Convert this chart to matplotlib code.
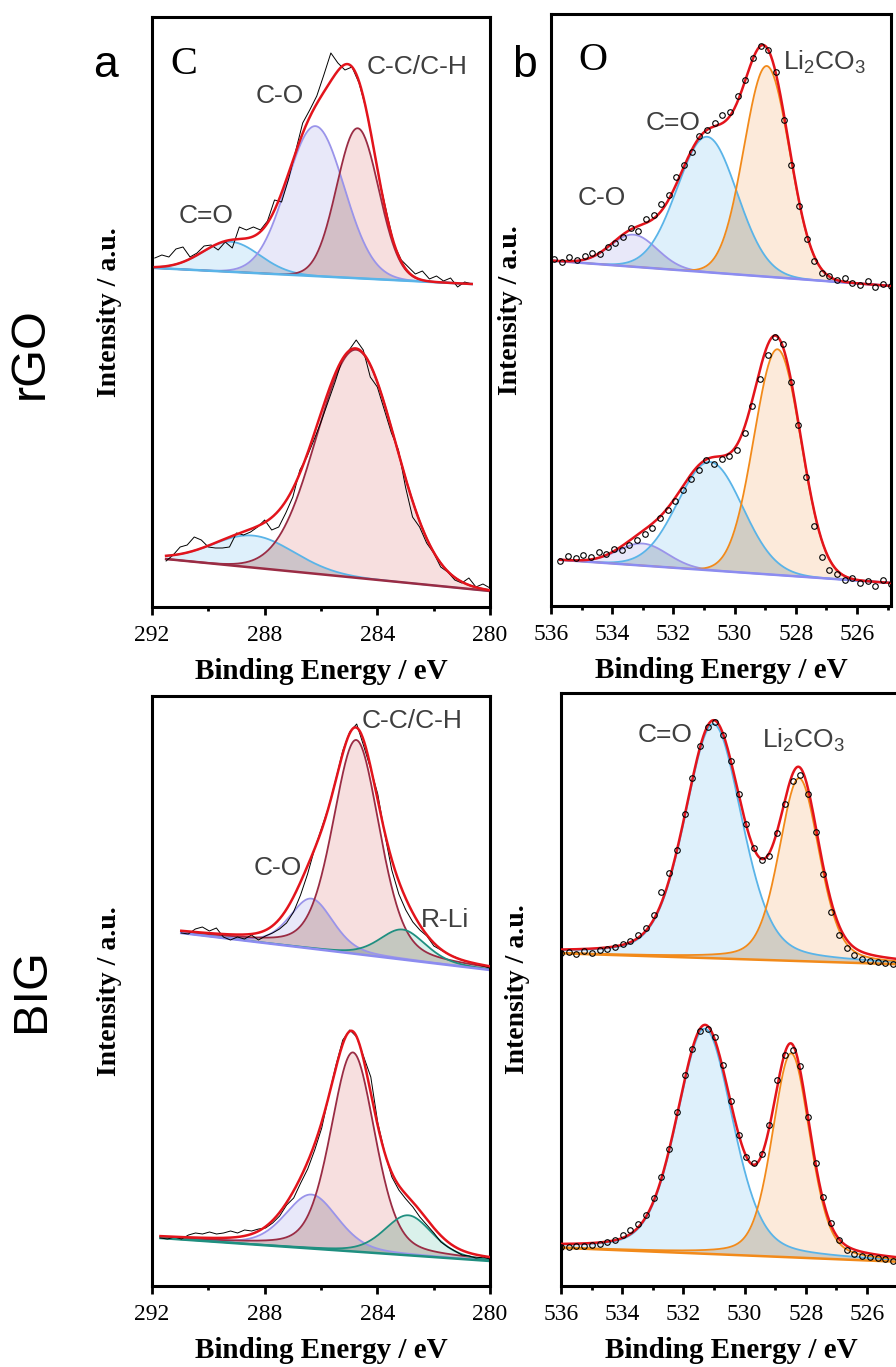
import matplotlib.pyplot as plt
import numpy as np

plt.rcParams['font.family'] = ['Liberation Sans', 'DejaVu Sans']
plt.rcParams['mathtext.fontset'] = 'custom'
plt.rcParams['mathtext.rm'] = 'Liberation Sans'

# ---- rGO, C 1s (panel a) ----
# energy span, linear background ends, peak fits (centre eV, height, fwhm eV),
# lorentzian share of the peak shape, measured counts on an even energy grid
a1_range = [291.9, 280.65]
a1_bg = [339, 323]
a1_names = ['C=O', 'C-O', 'C-C/C-H']
a1_center = [289.2, 286.2, 284.7]
a1_height = [30, 150, 150]
a1_fwhm = [2.4, 2.4, 1.75]
a1_mix = 0.0
a1_data = [349, 352, 350, 358, 360, 350, 354, 361, 362, 357, 365, 359, 380, 377, 380, 377,
           386, 407, 405, 428, 456, 484, 497, 511, 532, 554, 544, 537, 540, 524, 498, 462,
           424, 392, 362, 347, 340, 333, 336, 328, 331, 326, 329, 320, 325, 323]

a2_range = [291.5, 280.0]
a2_bg = [48, 16]
a2_names = ['C=O', 'C-C/C-H']
a2_center = [288.4, 284.75]
a2_height = [32, 228]
a2_fwhm = [3.4, 3.3]
a2_mix = 0.0
a2_data = [46, 52, 60, 62, 70, 67, 60, 59, 59, 60, 74, 72, 75, 80, 87, 77,
           80, 94, 110, 137, 150, 167, 185, 205, 225, 247, 257, 267, 257, 230, 220, 197,
           174, 157, 120, 90, 80, 64, 54, 40, 35, 27, 24, 29, 20, 23, 19]

# ---- rGO, O 1s (panel b) ----
b1_range = [535.9, 524.9]
b1_bg = [344, 319]
b1_names = ['C-O', 'C=O', 'Li2CO3']
b1_center = [533.3, 530.9, 528.95]
b1_height = [32, 135, 210]
b1_fwhm = [1.8, 2.3, 1.75]
b1_mix = 0.0
b1_data = [346, 343, 348, 345, 349, 352, 351, 358, 362, 368, 377, 374, 386, 390, 401, 410,
           428, 440, 452, 468, 474, 481, 489, 492, 508, 524, 546, 558, 554, 532, 484, 440,
           399, 366, 344, 332, 329, 325, 327, 322, 320, 324, 318, 321, 319]

b2_range = [535.7, 524.9]
b2_bg = [46, 23]
b2_names = ['C-O', 'C=O', 'Li2CO3']
b2_center = [533.0, 530.8, 528.6]
b2_height = [22, 108, 225]
b2_fwhm = [1.9, 2.5, 1.8]
b2_mix = 0.0
b2_data = [45, 50, 48, 51, 49, 54, 52, 57, 56, 61, 66, 72, 78, 88, 96, 105,
           116, 127, 136, 146, 142, 147, 149, 155, 172, 199, 226, 250, 268, 261, 223, 180,
           129, 80, 49, 36, 32, 26, 28, 23, 25, 20, 26, 22]

# ---- BIG, C 1s (panel c) ----
c1_range = [290.96, 280.0]
c1_bg = [353, 316]
c1_names = ['C-O', 'C-C/C-H', 'R-Li']
c1_center = [286.34, 284.75, 283.1]
c1_height = [50, 214, 30]
c1_fwhm = [1.8, 1.95, 1.9]
c1_mix = 0.3
c1_data = [353, 352, 357, 359, 355, 358, 349, 346, 349, 347, 351, 346,
           350, 353, 357, 363, 374, 391, 412, 437, 458, 479, 506, 535, 554, 562,
           540, 517, 492, 452, 416, 392, 376, 364, 356, 350, 340, 336, 332, 329,
           326, 324, 322, 320, 318]

c2_range = [291.7, 280.0]
c2_bg = [48, 25]
c2_names = ['C-O', 'C-C/C-H', 'R-Li']
c2_center = [286.34, 284.87, 282.9]
c2_height = [54, 199, 40]
c2_fwhm = [2.2, 1.85, 2.0]
c2_mix = 0.3
c2_data = [48, 47, 49, 47, 51, 53, 52, 54, 52, 53, 55, 53, 56, 55, 57, 58,
           63, 70, 81, 88, 103, 117, 136, 158, 190, 220, 246, 256, 249, 229, 209, 163,
           133, 109, 96, 87, 79, 69, 61, 53, 44, 39, 35, 31, 30, 28, 29, 27]

# ---- BIG, O 1s (panel d) ----
d1_range = [536.0, 524.9]
d1_bg = [331, 320]
d1_names = ['C=O', 'Li2CO3']
d1_center = [531.02, 528.22]
d1_height = [233, 182]
d1_fwhm = [2.2, 1.55]
d1_mix = 0.3
d1_data = [331, 332, 330, 333, 331, 334, 335, 337, 340, 343, 349, 356, 369, 392, 411, 434,
           470, 505, 537, 556, 561, 548, 522, 490, 460, 436, 424, 428, 451, 480, 502, 508,
           490, 452, 410, 372, 349, 336, 329, 325, 323, 322, 321, 320, 319]

d2_range = [536.0, 524.9]
d2_bg = [38, 24]
d2_names = ['C=O', 'Li2CO3']
d2_center = [531.3, 528.48]
d2_height = [224, 203]
d2_fwhm = [2.15, 1.45]
d2_mix = 0.3
d2_data = [39, 39, 40, 40, 41, 42, 44, 46, 51, 56, 62, 71, 88, 108, 136, 173,
           210, 236, 254, 256, 248, 220, 184, 150, 128, 122, 131, 160, 205, 230, 235, 219,
           168, 122, 89, 63, 46, 36, 32, 30, 29, 28, 27, 25, 24]

edge = {'C=O': '#5ab4e8', 'C-O': '#9a94ea', 'C-C/C-H': '#9a2c44',
        'R-Li': '#1f8f80', 'Li2CO3': '#f28a1a'}
fill = {'C=O': '#6cbcef', 'C-O': '#9898e6', 'C-C/C-H': '#dc7070',
        'R-Li': '#58c0a8', 'Li2CO3': '#f2a058'}

W, H = 896, 1367
txt_color = '#3f3f3f'


def peak(x, c, h, w, m):
    g = np.exp(-0.5 * ((x - c) / (w / 2.3548)) ** 2)
    lor = 1.0 / (1.0 + ((x - c) / (w / 2)) ** 2)
    return h * ((1 - m) * g + m * lor)


def draw(ax, rng, bg, names, centers, heights, fwhms, mix, data, bg_color, style):
    x = np.linspace(rng[0], rng[1], 600)
    base = np.interp(x, rng[::-1], bg[::-1])
    comps = [peak(x, c, h, w, mix) for c, h, w in zip(centers, heights, fwhms)]
    for n, comp in zip(names, comps):
        ax.fill_between(x, base, base + comp, color=fill[n], alpha=0.22, lw=0)
        ax.plot(x, base + comp, color=edge[n], lw=1.3)
    # darker shade where neighbouring peaks overlap
    for p, q in zip(comps[:-1], comps[1:]):
        ax.fill_between(x, base, base + np.minimum(p, q), color='#7a7a66', alpha=0.16, lw=0)
    ax.plot(x, base, color=bg_color, lw=1.8)
    ax.plot(x, base + sum(comps), color='#e3141c', lw=1.8, zorder=5)
    xd = np.linspace(rng[0], rng[1], len(data))
    if style == 'line':
        ax.plot(xd, data, color='black', lw=0.7, zorder=4)
    else:
        ax.plot(xd, data, 'o', ms=4, mfc='none', mec='black', mew=0.8, zorder=6)


def box(l, t, r, b):
    return [l / W, 1 - b / H, (r - l) / W, (b - t) / H]


def ftext(x, y, s, **kw):
    fig.text(x / W, 1 - y / H, s, **kw)


fig = plt.figure(figsize=(8.96, 13.67), dpi=100)

ax_a = fig.add_axes(box(152, 17, 490, 607))
ax_b = fig.add_axes(box(551, 14, 891, 606))
ax_c = fig.add_axes(box(152, 696, 490, 1286))
ax_d = fig.add_axes(box(561, 693, 901, 1286))

draw(ax_a, a1_range, a1_bg, a1_names, a1_center, a1_height, a1_fwhm, a1_mix, a1_data, '#5ab4e8', 'line')
draw(ax_a, a2_range, a2_bg, a2_names, a2_center, a2_height, a2_fwhm, a2_mix, a2_data, '#9a2c44', 'line')
draw(ax_b, b1_range, b1_bg, b1_names, b1_center, b1_height, b1_fwhm, b1_mix, b1_data, '#8c8cf0', 'dots')
draw(ax_b, b2_range, b2_bg, b2_names, b2_center, b2_height, b2_fwhm, b2_mix, b2_data, '#8c8cf0', 'dots')
draw(ax_c, c1_range, c1_bg, c1_names, c1_center, c1_height, c1_fwhm, c1_mix, c1_data, '#8c8cf0', 'line')
draw(ax_c, c2_range, c2_bg, c2_names, c2_center, c2_height, c2_fwhm, c2_mix, c2_data, '#1f8f80', 'line')
draw(ax_d, d1_range, d1_bg, d1_names, d1_center, d1_height, d1_fwhm, d1_mix, d1_data, '#f28a1a', 'dots')
draw(ax_d, d2_range, d2_bg, d2_names, d2_center, d2_height, d2_fwhm, d2_mix, d2_data, '#f28a1a', 'dots')

c_major = [292, 288, 284, 280]
c_minor = [290, 286, 282]
o_major = [536, 534, 532, 530, 528, 526]
o_minor = [535, 533, 531, 529, 527, 525]

for ax, lim, major, minor, ylab_x in [(ax_a, (292, 280), c_major, c_minor, -0.089),
                                      (ax_c, (292, 280), c_major, c_minor, -0.089),
                                      (ax_b, (536, 524.89), o_major, o_minor, -0.082),
                                      (ax_d, (536, 524.89), o_major, o_minor, -0.091)]:
    ax.set_xlim(*lim)
    ax.set_ylim(0, 590)
    ax.set_xticks(major)
    ax.set_xticks(minor, minor=True)
    ax.set_yticks([])
    ax.tick_params(axis='x', which='major', direction='out', length=6, width=2, labelsize=17, pad=7)
    ax.tick_params(axis='x', which='minor', direction='out', length=3, width=2)
    for lab in ax.get_xticklabels():
        lab.set_family('Liberation Serif')
    for s in ax.spines.values():
        s.set_linewidth(2.2)
    ax.set_xlabel('Binding Energy / eV', family='Liberation Serif', fontweight='bold', fontsize=21)
    ax.xaxis.set_label_coords(0.5, -0.086)
    ax.set_ylabel('Intensity / a.u.', family='Liberation Serif', fontweight='bold', fontsize=20)
    ax.yaxis.set_label_coords(ylab_x, 0.5)

ann = dict(fontsize=19, color=txt_color, va='baseline')
li2co3 = r'Li$_\mathregular{2}$CO$_\mathregular{3}$'

# panel a
ftext(105, 77, 'a', fontsize=32, color='black', ha='center', va='baseline')
ftext(184, 74, 'C', fontsize=29, family='Liberation Serif', color='black', ha='center', va='baseline')
ftext(417, 74, 'C-C/C-H', ha='center', **ann)
ftext(280, 103, 'C-O', ha='center', **ann)
ftext(206, 223, 'C=O', ha='center', **ann)
# panel b
ftext(524, 77, 'b', fontsize=32, color='black', ha='center', va='baseline')
ftext(593, 70, 'O', fontsize=29, family='Liberation Serif', color='black', ha='center', va='baseline')
ftext(783, 70, li2co3, ha='left', **ann)
ftext(673, 130, 'C=O', ha='center', **ann)
ftext(602, 205, 'C-O', ha='center', **ann)
# panel c
ftext(412, 728, 'C-C/C-H', ha='center', **ann)
ftext(278, 875, 'C-O', ha='center', **ann)
ftext(445, 927, 'R-Li', ha='center', **ann)
# panel d
ftext(665, 742, 'C=O', ha='center', **ann)
ftext(762, 748, li2co3, ha='left', **ann)

# row labels
ftext(30, 353, 'rGO', fontsize=35, rotation=90, ha='center', va='center', color='black')
ftext(31, 990, 'BIG', fontsize=35, rotation=90, ha='center', va='center', color='black')

fig.savefig('out.png', dpi=100)
